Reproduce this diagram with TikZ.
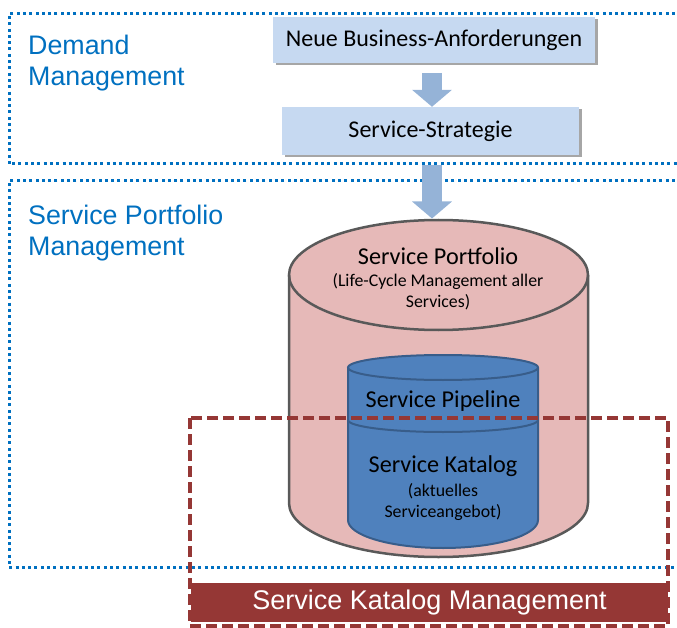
\documentclass[tikz,border=0pt]{standalone}
\usepackage{fontspec}
\setmainfont{Carlito}
\newfontfamily\arialf{Liberation Sans}
\usetikzlibrary{arrows.meta,shadows}
\definecolor{dmblue}{HTML}{0070C0}
\definecolor{boxfill}{HTML}{C6D9F1}
\definecolor{arrowfill}{HTML}{95B3D7}
\definecolor{pinkfill}{HTML}{E6B9B8}
\definecolor{cylgray}{HTML}{595959}
\definecolor{innerfill}{HTML}{4F81BD}
\definecolor{innerdraw}{HTML}{385D8A}
\definecolor{darkred}{HTML}{953735}
\begin{document}
\begin{tikzpicture}[x=1pt,y=1pt,
  dotbox/.style={dmblue, line width=3pt, dash pattern=on 3pt off 3.3pt},
  seclabel/.style={anchor=north west, inner sep=0pt, align=left, text=dmblue,
    font=\arialf\fontsize{26.8}{31}\selectfont},
  procbox/.style={fill=boxfill, inner sep=0pt,
    drop shadow={shadow xshift=2.5pt, shadow yshift=-2.5pt, fill=black, opacity=0.35},
    font=\fontsize{24}{28}\selectfont},
  blockarrow/.style={draw=arrowfill, line width=20pt,
    -{Triangle[width=39pt,length=17pt,fill=arrowfill]}},
  maintext/.style={inner sep=0pt, font=\fontsize{24.2}{28}\selectfont},
  subtext/.style={inner sep=0pt, align=center, font=\fontsize{17.8}{21.5}\selectfont},
  cylline/.style={draw=cylgray, line width=2.5pt},
  innerline/.style={draw=innerdraw, line width=2pt},
  reddash/.style={draw=darkred, line width=3.5pt, dash pattern=on 11pt off 5pt},
]
\useasboundingbox (0,0) rectangle (677,-628);

% dotted section boxes
\begin{scope}
  \clip (0,0) rectangle (677,-628);
  \draw[dotbox] (700,-14) -- (9,-14) -- (9,-164) -- (700,-164);
  \draw[dotbox] (700,-181) -- (9,-181) -- (9,-567) -- (700,-567);
\end{scope}

\node[seclabel] (dm) at (28,-35) {Demand\\Management};
\node[seclabel] (spm) at (28,-205) {Service Portfolio\\Management};

% process boxes
\node[procbox, minimum width=322pt, minimum height=46pt] (neue) at (434,-40) {Neue Business-Anforderungen};
\node[procbox, minimum width=297pt, minimum height=48pt] (strat) at (430.5,-131) {Service-Strategie};

% big cylinder
\fill[pinkfill] (289,-275) -- (289,-503) arc[start angle=180,end angle=360,x radius=149.5,y radius=54]
  -- (588,-275) arc[start angle=0,end angle=180,x radius=149.5,y radius=55] -- cycle;
\draw[cylline] (289,-275) -- (289,-503) arc[start angle=180,end angle=360,x radius=149.5,y radius=54] -- (588,-275);
\draw[cylline] (438.5,-275) ellipse[x radius=149.5,y radius=55];

\node[maintext] (sp) at (438,-256) {Service Portfolio};
\node[subtext] (spsub) at (438,-291.5) {(Life-Cycle Management aller\\Services)};

% inner cylinder
\fill[innerfill] (348,-367.5) -- (348,-520) arc[start angle=180,end angle=360,x radius=95,y radius=28]
  -- (538,-367.5) arc[start angle=0,end angle=180,x radius=95,y radius=12.5] -- cycle;
\draw[innerline] (348,-367.5) -- (348,-520) arc[start angle=180,end angle=360,x radius=95,y radius=28] -- (538,-367.5);
\draw[innerline] (443,-367.5) ellipse[x radius=95,y radius=12.5];
\draw[innerline] (348,-420) arc[start angle=180,end angle=360,x radius=95,y radius=12];

\node[maintext] (pipe) at (443,-401.5) {Service Pipeline};
\node[maintext] (kat) at (443,-466) {Service Katalog};
\node[subtext] (katsub) at (443,-502) {(aktuelles\\Serviceangebot)};

% block arrows
\coordinate (a1s) at (432,-73);
\coordinate (a2s) at (432,-165);
\draw[blockarrow] (a1s) -- (a1s |- strat.north);
\draw[blockarrow] (a2s) -- (432,-218.5);

% service katalog management
\fill[darkred] (191,-583) rectangle (668,-622);
\node[inner sep=0pt, text=white, font=\arialf\fontsize{27}{32}\selectfont] (skm) at (429.5,-602.5) {Service Katalog Management};
\draw[reddash] (190,-418) rectangle (668,-626);
\end{tikzpicture}
\end{document}
